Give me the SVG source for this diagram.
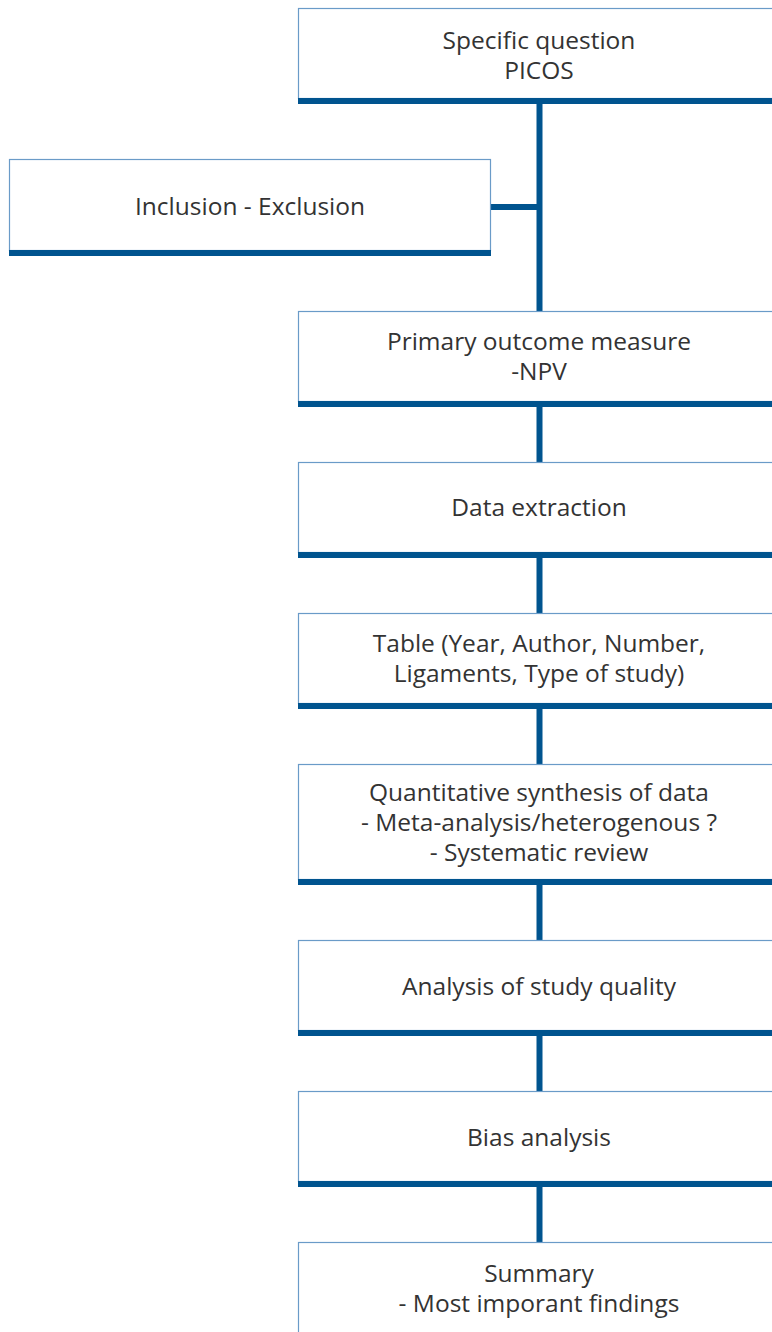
<svg xmlns="http://www.w3.org/2000/svg" width="772" height="1332" viewBox="0 0 772 1332">
<style>
.box{fill:#ffffff;stroke:#6a9bc8;stroke-width:1.2}
.bar{fill:#00548f}
.t{font-family:"Open Sans","Noto Sans",sans-serif;font-size:24.5px;fill:#333333;text-anchor:middle}
.con{stroke:#00548f;stroke-width:6;fill:none}
</style>
<g id="connectors">
<line class="con" x1="539.5" y1="104" x2="539.5" y2="1242"/>
<line class="con" x1="491" y1="207" x2="539.5" y2="207"/>
</g>
<g id="n1">
<rect class="box" x="298.5" y="8.5" width="480" height="90"/>
<rect class="bar" x="298" y="98" width="474" height="6"/>
<text class="t" x="539" y="49">Specific question</text>
<text class="t" x="539" y="79">PICOS</text>
</g>
<g id="n2">
<rect class="box" x="9.5" y="159.5" width="481" height="91"/>
<rect class="bar" x="9" y="250" width="482" height="6"/>
<text class="t" x="250" y="215">Inclusion - Exclusion</text>
</g>
<g id="n3">
<rect class="box" x="298.5" y="311.5" width="480" height="90"/>
<rect class="bar" x="298" y="401" width="474" height="6"/>
<text class="t" x="539" y="349.5">Primary outcome measure</text>
<text class="t" x="539" y="379.5">-NPV</text>
</g>
<g id="n4">
<rect class="box" x="298.5" y="462.5" width="480" height="90"/>
<rect class="bar" x="298" y="552" width="474" height="6"/>
<text class="t" x="539" y="516">Data extraction</text>
</g>
<g id="n5">
<rect class="box" x="298.5" y="613.5" width="480" height="90"/>
<rect class="bar" x="298" y="703" width="474" height="6"/>
<text class="t" x="539" y="652">Table (Year, Author, Number,</text>
<text class="t" x="539" y="682">Ligaments, Type of study)</text>
</g>
<g id="n6">
<rect class="box" x="298.5" y="764.5" width="480" height="115"/>
<rect class="bar" x="298" y="879" width="474" height="6"/>
<text class="t" x="539" y="801">Quantitative synthesis of data</text>
<text class="t" x="539" y="831">- Meta-analysis/heterogenous ?</text>
<text class="t" x="539" y="861">- Systematic review</text>
</g>
<g id="n7">
<rect class="box" x="298.5" y="940.5" width="480" height="90"/>
<rect class="bar" x="298" y="1030" width="474" height="6"/>
<text class="t" x="539" y="995">Analysis of study quality</text>
</g>
<g id="n8">
<rect class="box" x="298.5" y="1091.5" width="480" height="90"/>
<rect class="bar" x="298" y="1181" width="474" height="6"/>
<text class="t" x="539" y="1146">Bias analysis</text>
</g>
<g id="n9">
<rect class="box" x="298.5" y="1242.5" width="480" height="100"/>
<text class="t" x="539" y="1282">Summary</text>
<text class="t" x="539" y="1312">- Most imporant findings</text>
</g>
</svg>
